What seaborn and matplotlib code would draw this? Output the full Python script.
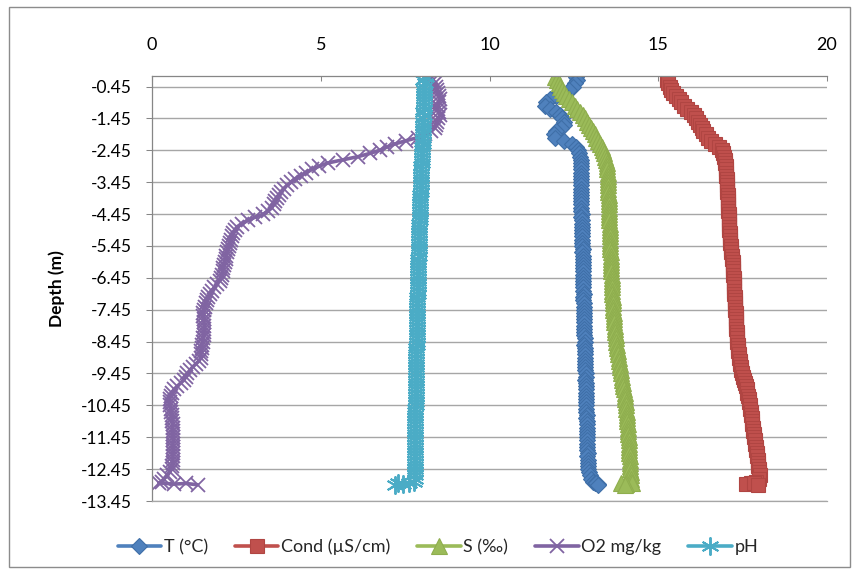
import matplotlib
matplotlib.use("Agg")
import matplotlib.pyplot as plt
import pandas as pd
import seaborn as sns
from matplotlib.patches import Rectangle

# Depth of each reading (m, negative downward)
DEPTH = [
    -0.15, -0.25, -0.35, -0.45, -0.55, -0.65, -0.75, -0.85, -0.95, -1.05,
    -1.15, -1.25, -1.35, -1.45, -1.55, -1.65, -1.75, -1.85, -1.95, -2.05,
    -2.15, -2.25, -2.35, -2.45, -2.55, -2.65, -2.75, -2.85, -2.95, -3.05,
    -3.15, -3.25, -3.35, -3.45, -3.55, -3.65, -3.75, -3.85, -3.95, -4.05,
    -4.15, -4.25, -4.35, -4.45, -4.55, -4.65, -4.75, -4.85, -4.95, -5.05,
    -5.15, -5.25, -5.35, -5.45, -5.55, -5.65, -5.75, -5.85, -5.95, -6.05,
    -6.15, -6.25, -6.35, -6.45, -6.55, -6.65, -6.75, -6.85, -6.95, -7.05,
    -7.15, -7.25, -7.35, -7.45, -7.55, -7.65, -7.75, -7.85, -7.95, -8.05,
    -8.15, -8.25, -8.35, -8.45, -8.55, -8.65, -8.75, -8.85, -8.95, -9.05,
    -9.15, -9.25, -9.35, -9.45, -9.55, -9.65, -9.75, -9.85, -9.95, -10.05,
    -10.15, -10.25, -10.35, -10.45, -10.55, -10.65, -10.75, -10.85, -10.95, -11.05,
    -11.15, -11.25, -11.35, -11.45, -11.55, -11.65, -11.75, -11.85, -11.95, -12.05,
    -12.15, -12.25, -12.35, -12.45, -12.55, -12.65, -12.75, -12.85,
    -12.88, -12.92, -12.90, -12.94,
]

TEMP = [
    12.55, 12.58, 12.52, 12.48, 12.35, 12.18, 11.98, 11.78, 11.66, 11.64,
    11.78, 11.98, 12.10, 12.16, 12.20, 12.22, 12.12, 11.98, 11.90, 11.94,
    12.20, 12.45, 12.56, 12.62, 12.66, 12.68, 12.70, 12.70, 12.70, 12.71,
    12.70, 12.71, 12.70, 12.70, 12.71, 12.72, 12.71, 12.70, 12.70, 12.72,
    12.72, 12.71, 12.72, 12.73, 12.72, 12.73, 12.74, 12.73, 12.74, 12.74,
    12.75, 12.74, 12.75, 12.75, 12.76, 12.75, 12.76, 12.76, 12.76, 12.77,
    12.76, 12.77, 12.77, 12.78, 12.77, 12.78, 12.78, 12.78, 12.79, 12.78,
    12.78, 12.79, 12.79, 12.80, 12.79, 12.80, 12.80, 12.80, 12.81, 12.80,
    12.81, 12.81, 12.82, 12.82, 12.81, 12.82, 12.83, 12.82, 12.83, 12.84,
    12.84, 12.83, 12.84, 12.85, 12.85, 12.84, 12.85, 12.86, 12.85, 12.86,
    12.86, 12.86, 12.87, 12.86, 12.87, 12.87, 12.88, 12.87, 12.88, 12.88,
    12.89, 12.88, 12.89, 12.89, 12.90, 12.89, 12.90, 12.90, 12.91, 12.90,
    12.91, 12.92, 12.91, 12.93, 12.95, 12.97, 13.02, 13.08,
    13.12, 13.20, 13.16, 13.22,
]

COND = [
    15.25, 15.27, 15.30, 15.34, 15.38, 15.44, 15.52, 15.60, 15.68, 15.76,
    15.86, 15.96, 16.05, 16.12, 16.18, 16.24, 16.29, 16.34, 16.40, 16.47,
    16.56, 16.68, 16.80, 16.88, 16.92, 16.95, 16.97, 16.99, 17.00, 17.01,
    17.02, 17.02, 17.03, 17.04, 17.04, 17.05, 17.05, 17.06, 17.06, 17.07,
    17.07, 17.08, 17.08, 17.09, 17.09, 17.10, 17.10, 17.11, 17.11, 17.12,
    17.12, 17.13, 17.14, 17.15, 17.16, 17.17, 17.18, 17.19, 17.20, 17.20,
    17.21, 17.22, 17.22, 17.23, 17.23, 17.24, 17.24, 17.25, 17.25, 17.26,
    17.27, 17.27, 17.28, 17.28, 17.29, 17.29, 17.30, 17.30, 17.31, 17.31,
    17.32, 17.32, 17.33, 17.34, 17.35, 17.36, 17.37, 17.38, 17.39, 17.41,
    17.42, 17.44, 17.46, 17.48, 17.50, 17.53, 17.56, 17.59, 17.62, 17.64,
    17.66, 17.68, 17.70, 17.71, 17.73, 17.74, 17.75, 17.77, 17.78, 17.79,
    17.80, 17.82, 17.83, 17.85, 17.86, 17.87, 17.89, 17.90, 17.92, 17.93,
    17.95, 17.96, 17.97, 17.98, 17.99, 18.00, 17.98, 17.90,
    17.75, 17.60, 17.85, 17.95,
]

SAL = [
    11.95, 12.00, 12.05, 12.10, 12.15, 12.20, 12.28, 12.36, 12.44, 12.52,
    12.60, 12.68, 12.76, 12.83, 12.90, 12.96, 13.02, 13.07, 13.12, 13.17,
    13.22, 13.27, 13.32, 13.36, 13.40, 13.43, 13.45, 13.47, 13.48, 13.49,
    13.50, 13.50, 13.51, 13.51, 13.52, 13.52, 13.52, 13.53, 13.53, 13.53,
    13.54, 13.54, 13.54, 13.55, 13.55, 13.55, 13.56, 13.56, 13.56, 13.57,
    13.57, 13.57, 13.58, 13.58, 13.58, 13.59, 13.59, 13.60, 13.60, 13.60,
    13.61, 13.61, 13.62, 13.62, 13.62, 13.63, 13.63, 13.64, 13.64, 13.65,
    13.65, 13.66, 13.66, 13.67, 13.68, 13.68, 13.69, 13.70, 13.71, 13.72,
    13.73, 13.74, 13.75, 13.76, 13.78, 13.79, 13.80, 13.82, 13.83, 13.85,
    13.86, 13.88, 13.89, 13.91, 13.92, 13.94, 13.95, 13.97, 13.98, 14.00,
    14.01, 14.02, 14.03, 14.04, 14.05, 14.06, 14.07, 14.08, 14.08, 14.09,
    14.10, 14.10, 14.11, 14.12, 14.12, 14.13, 14.13, 14.14, 14.14, 14.15,
    14.15, 14.16, 14.17, 14.17, 14.18, 14.18, 14.19, 14.20,
    14.22, 14.05, 13.90, 14.00,
]

O2 = [
    8.28, 8.33, 8.38, 8.42, 8.45, 8.48, 8.50, 8.52, 8.50, 8.48,
    8.46, 8.50, 8.52, 8.48, 8.44, 8.42, 8.38, 8.28, 8.10, 7.88,
    7.52, 7.20, 6.95, 6.75, 6.45, 6.10, 5.65, 5.20, 4.95, 4.75,
    4.55, 4.40, 4.25, 4.12, 4.00, 3.90, 3.82, 3.75, 3.70, 3.65,
    3.60, 3.55, 3.45, 3.30, 3.05, 2.85, 2.66, 2.52, 2.45, 2.40,
    2.37, 2.33, 2.30, 2.27, 2.25, 2.22, 2.20, 2.18, 2.15, 2.13,
    2.11, 2.09, 2.07, 2.05, 2.00, 1.93, 1.85, 1.78, 1.72, 1.67,
    1.63, 1.60, 1.56, 1.53, 1.52, 1.52, 1.53, 1.54, 1.55, 1.55,
    1.54, 1.53, 1.52, 1.50, 1.48, 1.47, 1.46, 1.45, 1.44, 1.40,
    1.30, 1.20, 1.12, 1.05, 1.00, 0.95, 0.85, 0.75, 0.65, 0.60,
    0.55, 0.52, 0.52, 0.53, 0.55, 0.57, 0.58, 0.60, 0.60, 0.61,
    0.61, 0.62, 0.62, 0.62, 0.63, 0.62, 0.62, 0.63, 0.62, 0.62,
    0.62, 0.61, 0.60, 0.58, 0.52, 0.45, 0.35, 0.30,
    0.20, 0.65, 1.00, 1.35,
]

PH = [
    8.12, 8.02, 8.08, 8.06, 8.05, 8.06, 8.05, 8.06, 8.05, 8.05,
    8.05, 8.04, 8.05, 8.04, 8.04, 8.03, 8.04, 8.03, 8.03, 8.02,
    8.02, 8.02, 8.01, 8.01, 8.00, 8.00, 7.99, 7.99, 7.98, 7.98,
    7.98, 7.97, 7.97, 7.97, 7.96, 7.96, 7.96, 7.95, 7.95, 7.95,
    7.94, 7.94, 7.94, 7.93, 7.93, 7.93, 7.92, 7.92, 7.92, 7.92,
    7.91, 7.91, 7.91, 7.90, 7.90, 7.90, 7.90, 7.89, 7.89, 7.89,
    7.89, 7.88, 7.88, 7.88, 7.88, 7.87, 7.87, 7.87, 7.87, 7.86,
    7.86, 7.86, 7.86, 7.86, 7.85, 7.85, 7.85, 7.85, 7.85, 7.84,
    7.84, 7.84, 7.84, 7.84, 7.84, 7.83, 7.83, 7.83, 7.83, 7.83,
    7.83, 7.82, 7.82, 7.82, 7.82, 7.82, 7.82, 7.81, 7.81, 7.81,
    7.81, 7.81, 7.81, 7.81, 7.80, 7.80, 7.80, 7.80, 7.80, 7.80,
    7.80, 7.80, 7.80, 7.79, 7.79, 7.79, 7.79, 7.79, 7.79, 7.79,
    7.79, 7.79, 7.79, 7.78, 7.78, 7.78, 7.78, 7.76,
    7.60, 7.45, 7.30, 7.20,
]

SERIES = ["T (°C)", "Cond (µS/cm)", "S (‰)", "O2 mg/kg", "pH"]
X_TICKS = [0, 5, 10, 15, 20]
Y_TICKS = [-0.45, -1.45, -2.45, -3.45, -4.45, -5.45, -6.45, -7.45, -8.45,
           -9.45, -10.45, -11.45, -12.45, -13.45]

# Long-form table: one row per reading per parameter
df = pd.DataFrame({
    "depth": DEPTH * 5,
    "value": TEMP + COND + SAL + O2 + PH,
    "series": [s for s in SERIES for _ in DEPTH],
})

sns.set_theme(style="white")
plt.rcParams["font.family"] = ["Lato", "DejaVu Sans"]

# Office-style palette and marker for each parameter
styles = {
    "T (°C)":       dict(color="#4F81BD", mec="#3F6FA8", marker="D", ms=8.3, mew=0.8),
    "Cond (µS/cm)": dict(color="#C0504D", mec="#B04542", marker="s", ms=10.5, mew=0.8),
    "S (‰)":        dict(color="#9BBB59", mec="#8FAE4E", marker="^", ms=12, mew=0.8),
    "O2 mg/kg":     dict(color="#8064A2", mec="#8064A2", marker="x", ms=10.5, mew=1.3),
    "pH":           dict(color="#4BACC6", mec="#4BACC6", marker=(6, 2, 0), ms=13, mew=1.4),
}

W, H = 857, 574
fig = plt.figure(figsize=(W / 100, H / 100), dpi=100)
ax = fig.add_axes([152 / W, (H - 501) / H, (827 - 152) / W, (501 - 76) / H])

for name in SERIES:
    st = styles[name]
    sns.lineplot(
        data=df[df["series"] == name], x="value", y="depth",
        sort=False, estimator=None, ax=ax, legend=False,
        color=st["color"], linewidth=2.6,
        marker=st["marker"], markersize=st["ms"],
        markerfacecolor=st["color"], markeredgecolor=st["mec"],
        markeredgewidth=st["mew"], label=name,
    )

ax.set_xlim(0, 20)
ax.set_ylim(-13.45, -0.12)
ax.set_xticks(X_TICKS)
ax.set_xticklabels([str(t) for t in X_TICKS])
ax.set_yticks(Y_TICKS)
ax.set_yticklabels([f"{t:.2f}" for t in Y_TICKS])
ax.set_xlabel("")
ax.set_ylabel("Depth (m)", fontsize=12.5, fontweight="bold", color="black")
ax.yaxis.set_label_coords((65 - 152) / 675, 0.5)

ax.xaxis.tick_top()
ax.tick_params(axis="x", which="both", top=True, bottom=False, direction="in",
               length=3.6, width=0.75, color="#868686", pad=16.5,
               labelsize=13, labelcolor="black")
ax.tick_params(axis="y", left=True, direction="out", length=4.3, width=0.75,
               color="#868686", pad=10.5, labelsize=12.5, labelcolor="black")

ax.grid(False)
ax.yaxis.grid(True, color="#A6A6A6", linewidth=1.0)
ax.set_axisbelow(True)
for side in ["top", "left", "bottom"]:
    ax.spines[side].set_visible(True)
    ax.spines[side].set_color("#868686")
    ax.spines[side].set_linewidth(0.9)
ax.spines["bottom"].set_color("#A6A6A6")
ax.spines["right"].set_visible(False)

handles, labels = ax.get_legend_handles_labels()
fig.legend(handles, labels, loc="center", ncol=5, frameon=False,
           bbox_to_anchor=(438 / W, 1 - 547 / H), fontsize=13,
           handlelength=2.4, handletextpad=0.15, columnspacing=1.5,
           numpoints=1)

# Chart-area outline
fig.patches.append(Rectangle((9 / W, 1 - 567 / H), (850 - 9) / W, (567 - 7) / H,
                             transform=fig.transFigure, fill=False,
                             edgecolor="#8C8C8C", linewidth=1.0))

fig.savefig("out.png", dpi=100)
